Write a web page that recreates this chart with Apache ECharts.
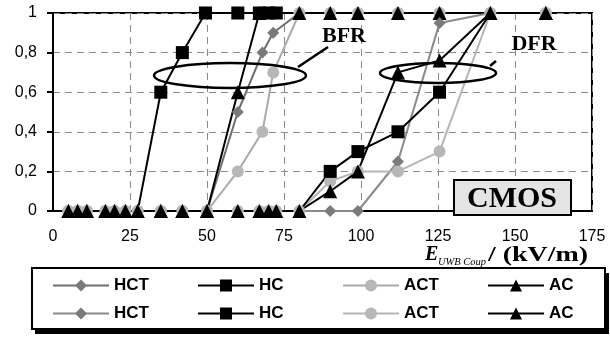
<!DOCTYPE html>
<html><head><meta charset="utf-8">
<script src="https://cdn.jsdelivr.net/npm/echarts@6/dist/echarts.min.js"></script>
<style>html,body{margin:0;padding:0;background:#fff}#c{width:610px;height:339px}</style>
</head><body><div id="c"></div>
<script>
// Axis ticks
const xTicks = [0, 25, 50, 75, 100, 125, 150, 175];
const yTicks = [0, 0.2, 0.4, 0.6, 0.8, 1];
const legendNames = ['HCT', 'HC', 'ACT', 'AC'];

// BFR group  [E (kV/m), failure rate]
const bfrHCT = [[5,0],[8,0],[11,0],[17,0],[20,0],[23.5,0],[27.5,0],[35,0],[42,0],[50,0],[60,0.5],[68,0.8],[71.5,0.9],[80,1],[90,1],[99,1],[112,1],[125.5,1],[142,1],[160,1]];
const bfrHC  = [[27.5,0],[35,0.6],[42,0.8],[49.5,1],[60,1],[67,1],[70,1],[72.5,1]];
const bfrACT = [[5,0],[8,0],[11,0],[17,0],[20,0],[23.5,0],[27.5,0],[35,0],[42,0],[50,0],[60,0.2],[68,0.4],[71.5,0.7],[80,1],[90,1],[99,1],[112,1],[125.5,1],[142,1],[160,1]];
const bfrAC  = [[5,0],[8,0],[11,0],[17,0],[20,0],[23.5,0],[27.5,0],[35,0],[42,0],[50,0],[60,0.6],[67,1],[80,1],[90,1],[99,1],[112,1],[125.5,1],[142,1],[160,1]];

// DFR group
const dfrHCT = [[5,0],[8,0],[11,0],[17,0],[20,0],[23.5,0],[27.5,0],[35,0],[42,0],[50,0],[60,0],[67,0],[70,0],[72.5,0],[80,0],[90,0],[99,0],[112,0.25],[125.5,0.95],[142,1],[160,1]];
const dfrHC  = [[80,0],[90,0.2],[99,0.3],[112,0.4],[125.5,0.6],[142,1]];
const dfrACT = [[5,0],[8,0],[11,0],[17,0],[20,0],[23.5,0],[27.5,0],[35,0],[42,0],[50,0],[60,0],[67,0],[70,0],[72.5,0],[80,0],[90,0.15],[99,0.2],[112,0.2],[125.5,0.3],[142,1],[160,1]];
const dfrAC  = [[5,0],[8,0],[11,0],[17,0],[20,0],[23.5,0],[27.5,0],[35,0],[42,0],[50,0],[60,0],[67,0],[70,0],[72.5,0],[80,0],[90,0.1],[99,0.2],[112,0.7],[125.5,0.76],[142,1],[160,1]];

const chart = echarts.init(document.getElementById('c'));

function mk(name, data, symbol, size, lineColor, markColor, z, sizeFn) {
  return {
    type: 'line', name: name, data: data, symbol: symbol,
    symbolSize: sizeFn || size, z: z,
    lineStyle: { color: lineColor, width: 2 },
    itemStyle: { color: markColor, borderColor: markColor, borderWidth: 0 },
    emphasis: { disabled: true }, animation: false
  };
}
const hideZero = v => v[1] === 0 ? 0 : 13;
const hideEnds = v => (v[1] === 0 || v[1] === 1) ? 0 : 13;

const series = [
  mk('HCT', bfrHCT, 'diamond', 12, '#6e6e6e', '#7a7a7a', 2),
  mk('ACT', bfrACT, 'circle', 12, '#aaaaaa', '#b7b7b7', 2),
  mk('AC', bfrAC, 'triangle', 14, '#000', '#000', 2),
  mk('HC', bfrHC, 'rect', 13, '#000', '#000', 2, hideZero),
  mk('HCT ', dfrHCT, 'diamond', 12, '#8a8a8a', '#7a7a7a', 3),
  mk('ACT ', dfrACT, 'circle', 12, '#b5b5b5', '#b7b7b7', 3),
  mk('HC ', dfrHC, 'rect', 13, '#000', '#000', 3, hideEnds),
  mk('AC ', dfrAC, 'triangle', 14, '#000', '#000', 3)
];

const legendBase = {
  itemWidth: 56, itemHeight: 15, itemGap: 4, padding: 0,
  selectedMode: false,
  formatter: n => n.trim(),
  textStyle: { fontFamily: 'Arial, "Liberation Sans"', fontWeight: 'bold', fontSize: 17, color: '#000', padding: [0,0,0,0] }
};
const legends = [];
[0, 1].forEach(row => {
  legendNames.forEach((n, i) => {
    legends.push(Object.assign({}, legendBase, {
      left: 52 + i * 145, top: 277 + row * 28,
      data: [row === 0 ? n : n + ' ']
    }));
  });
});

const serif = '"Liberation Serif", "Times New Roman", serif';

chart.setOption({
  animation: false,
  backgroundColor: '#fff',
  grid: { left: 53, right: 18, top: 13, bottom: 128, show: true, borderColor: '#000', borderWidth: 2, backgroundColor: 'transparent' },
  xAxis: {
    type: 'value', min: xTicks[0], max: xTicks[xTicks.length-1], interval: xTicks[1]-xTicks[0],
    axisLine: { lineStyle: { color: '#000', width: 2 } },
    axisTick: { show: false },
    axisLabel: { color: '#000', fontSize: 16, fontFamily: 'Arial, "Liberation Sans"', margin: 18 },
    splitLine: { show: true, lineStyle: { color: '#8a8a8a', type: [7, 5], width: 1 } }
  },
  yAxis: {
    type: 'value', min: yTicks[0], max: yTicks[yTicks.length-1], interval: yTicks[1]-yTicks[0],
    axisLine: { show: true, lineStyle: { color: '#000', width: 2 } },
    axisTick: { show: true, inside: false, length: 6, lineStyle: { color: '#000', width: 2 } },
    axisLabel: { color: '#000', fontSize: 16, fontFamily: 'Arial, "Liberation Sans"', margin: 16,
      formatter: v => (Math.round(v * 10) / 10).toString().replace('.', ',') },
    splitLine: { show: true, lineStyle: { color: '#8a8a8a', type: [7, 5], width: 1 } }
  },
  legend: legends,
  series: series,
  graphic: [
    // legend frame with shadow
    { type: 'rect', z: -2, shape: { x: 35, y: 273, width: 574, height: 61 }, style: { fill: '#000' } },
    { type: 'rect', z: -1, shape: { x: 32, y: 268, width: 573, height: 61 }, style: { fill: '#fff', stroke: '#000', lineWidth: 2 } },
    // annotations
    { type: 'ellipse', z: 100, shape: { cx: 230, cy: 75.5, rx: 76, ry: 12.5 }, style: { fill: 'none', stroke: '#000', lineWidth: 2.5 } },
    { type: 'line', z: 100, shape: { x1: 298, y1: 67, x2: 328, y2: 47 }, style: { stroke: '#000', lineWidth: 2.5 } },
    { type: 'text', z: 100, x: 344, y: 36, style: { text: 'BFR', fill: '#000', font: 'bold 22px ' + serif, align: 'center', verticalAlign: 'middle' } },
    { type: 'ellipse', z: 100, shape: { cx: 438, cy: 73, rx: 58, ry: 10 }, style: { fill: 'none', stroke: '#000', lineWidth: 2.5 } },
    { type: 'line', z: 100, shape: { x1: 490, y1: 66, x2: 496, y2: 61 }, style: { stroke: '#000', lineWidth: 2.5 } },
    { type: 'text', z: 100, x: 534, y: 44, style: { text: 'DFR', fill: '#000', font: 'bold 22px ' + serif, align: 'center', verticalAlign: 'middle' } },
    // CMOS label box
    { type: 'rect', z: 100, shape: { x: 454, y: 180, width: 117, height: 35 }, style: { fill: '#e4e4e4', stroke: '#000', lineWidth: 2 } },
    { type: 'text', z: 101, x: 512, y: 199, style: { text: 'CMOS', fill: '#000', font: 'bold 30px ' + serif, align: 'center', verticalAlign: 'middle' } },
    // axis title
    { type: 'text', z: 100, x: 425, y: 265, style: { text: 'E', fill: '#000', font: 'italic bold 20px ' + serif, align: 'left', verticalAlign: 'bottom' } },
    { type: 'text', z: 100, x: 438, y: 268, style: { text: 'UWB Coup', fill: '#000', font: 'italic 10.5px ' + serif, align: 'left', verticalAlign: 'bottom' } },
    { type: 'text', z: 100, x: 488, y: 266, scaleX: 1.33, style: { text: '/ (kV/m)', fill: '#000', font: 'bold 21px ' + serif, align: 'left', verticalAlign: 'bottom' } }
  ]
});
</script>
</body></html>
